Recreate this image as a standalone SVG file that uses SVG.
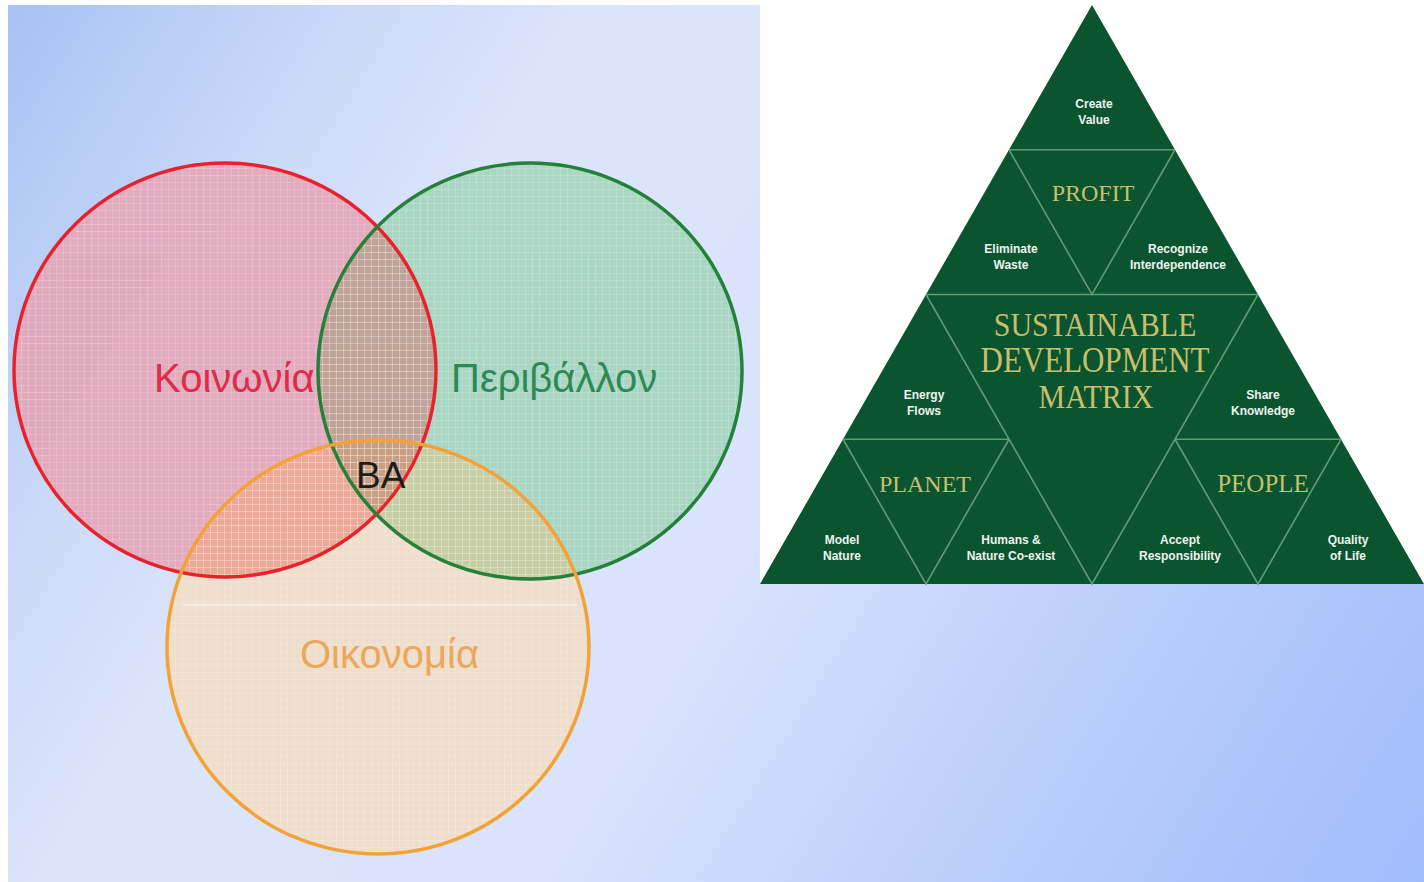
<svg xmlns="http://www.w3.org/2000/svg" width="1424" height="882" viewBox="0 0 1424 882">
<defs>
<linearGradient id="bg" gradientUnits="userSpaceOnUse" x1="0" y1="0" x2="1424" y2="882">
<stop offset="0" stop-color="#a6c1f4"/>
<stop offset="0.18" stop-color="#cad9f8"/>
<stop offset="0.3" stop-color="#dbe5fb"/>
<stop offset="0.55" stop-color="#d9e3fc"/>
<stop offset="0.8" stop-color="#b6cbfb"/>
<stop offset="1" stop-color="#a1bcfb"/>
</linearGradient>
<pattern id="grid" width="7" height="7" patternUnits="userSpaceOnUse">
<path d="M0,0.5 H7 M0.5,0 V7" stroke="#ffffff" stroke-opacity="0.16" stroke-width="1" fill="none"/>
</pattern>
<clipPath id="clipR"><ellipse cx="225" cy="370" rx="211" ry="207"/></clipPath>
<clipPath id="clipG"><ellipse cx="530" cy="371" rx="212" ry="208"/></clipPath>
<clipPath id="clipO"><ellipse cx="378" cy="647" rx="211" ry="207"/></clipPath>
<style>
.big{font-family:"Liberation Sans",Arial,sans-serif;font-size:40px;}
.serif{font-family:"Liberation Serif","Times New Roman",serif;fill:#c8bf6a;text-anchor:middle;}
.small{font-family:"Liberation Sans",Arial,sans-serif;font-size:12px;font-weight:bold;fill:#eef3ee;text-anchor:middle;}
.tline{stroke:#5f9c72;stroke-width:1.6;fill:none;}
.ring{fill:none;stroke-width:3.5;}
</style>
</defs>

<!-- background -->
<rect x="0" y="0" width="1424" height="882" fill="url(#bg)"/>
<rect x="0" y="0" width="8" height="882" fill="#ffffff"/>
<rect x="0" y="0" width="760" height="5" fill="#ffffff"/>
<rect x="760" y="0" width="664" height="584" fill="#ffffff"/>

<!-- Venn fills -->
<g id="venn-fills" opacity="0.93">
<ellipse cx="225" cy="370" rx="211" ry="207" fill="#e4a8ba"/>
<ellipse cx="530" cy="371" rx="212" ry="208" fill="#a6d6c0"/>
<ellipse cx="378" cy="647" rx="211" ry="207" fill="#f0dec8"/>
<g clip-path="url(#clipR)"><ellipse cx="530" cy="371" rx="212" ry="208" fill="#c0a092"/></g>
<g clip-path="url(#clipR)"><ellipse cx="378" cy="647" rx="211" ry="207" fill="#eea592"/></g>
<g clip-path="url(#clipG)"><ellipse cx="378" cy="647" rx="211" ry="207" fill="#c6cc9e"/></g>
<g clip-path="url(#clipR)"><g clip-path="url(#clipG)"><ellipse cx="378" cy="647" rx="211" ry="207" fill="#c89a7c"/></g></g>
</g>
<g id="venn-grid">
<ellipse cx="225" cy="370" rx="211" ry="207" fill="url(#grid)"/>
<ellipse cx="530" cy="371" rx="212" ry="208" fill="url(#grid)"/>
<ellipse cx="378" cy="647" rx="211" ry="207" fill="url(#grid)"/>
</g>
<line x1="183" y1="605" x2="577" y2="605" stroke="#f8f2ec" stroke-width="2" opacity="0.8"/>

<!-- Venn nodes -->
<g id="node-koinonia">
<ellipse class="ring" cx="225" cy="370" rx="211" ry="207" stroke="#e8222c"/>
<text class="big" x="154" y="392" fill="#de2c4a">Κοινωνία</text>
</g>
<g id="node-perivallon">
<ellipse class="ring" cx="530" cy="371" rx="212" ry="208" stroke="#25803a"/>
<text class="big" x="451" y="392" fill="#2e8a55">Περιβάλλον</text>
</g>
<g id="node-oikonomia">
<ellipse class="ring" cx="378" cy="647" rx="211" ry="207" stroke="#f2a236"/>
<text class="big" x="300" y="668" fill="#eba85a">Οικονομία</text>
</g>
<g id="node-ba">
<text x="356" y="488" font-family="Liberation Sans, Arial, sans-serif" font-size="37" fill="#1c1c1c">ΒΑ</text>
</g>

<!-- Sustainable development matrix -->
<g id="matrix">
<polygon points="1092,5 760,584 1424,584" fill="#0b5430"/>
</g>
<g id="connectors">
<path class="tline" d="M1009,149.75 H1175 M926,294.5 H1258 M843,439.25 H1009 M1175,439.25 H1341"/>
<path class="tline" d="M1009,149.75 L1092,294.5 L1175,149.75"/>
<path class="tline" d="M926,294.5 L1092,584 L1258,294.5"/>
<path class="tline" d="M843,439.25 L926,584 L1009,439.25"/>
<path class="tline" d="M1175,439.25 L1258,584 L1341,439.25"/>
</g>

<g id="cell-create-value"><text class="small" x="1094" y="108">Create</text><text class="small" x="1094" y="124">Value</text></g>
<g id="cell-profit"><text class="serif" x="1093" y="201" font-size="24">PROFIT</text></g>
<g id="cell-eliminate-waste"><text class="small" x="1011" y="253">Eliminate</text><text class="small" x="1011" y="269">Waste</text></g>
<g id="cell-recognize"><text class="small" x="1178" y="253">Recognize</text><text class="small" x="1178" y="269">Interdependence</text></g>
<g id="cell-sdm">
<text class="serif" font-size="30" transform="translate(1095,336) scale(1,1.12)">SUSTAINABLE</text>
<text class="serif" font-size="31" transform="translate(1095,372) scale(1,1.15)">DEVELOPMENT</text>
<text class="serif" font-size="30" transform="translate(1096,408) scale(1,1.12)">MATRIX</text>
</g>
<g id="cell-energy-flows"><text class="small" x="924" y="399">Energy</text><text class="small" x="924" y="415">Flows</text></g>
<g id="cell-share-knowledge"><text class="small" x="1263" y="399">Share</text><text class="small" x="1263" y="415">Knowledge</text></g>
<g id="cell-planet"><text class="serif" x="925" y="492" font-size="24">PLANET</text></g>
<g id="cell-people"><text class="serif" x="1263" y="492" font-size="25">PEOPLE</text></g>
<g id="cell-model-nature"><text class="small" x="842" y="544">Model</text><text class="small" x="842" y="560">Nature</text></g>
<g id="cell-humans"><text class="small" x="1011" y="544">Humans &amp;</text><text class="small" x="1011" y="560">Nature Co-exist</text></g>
<g id="cell-accept"><text class="small" x="1180" y="544">Accept</text><text class="small" x="1180" y="560">Responsibility</text></g>
<g id="cell-quality"><text class="small" x="1348" y="544">Quality</text><text class="small" x="1348" y="560">of Life</text></g>
</svg>
